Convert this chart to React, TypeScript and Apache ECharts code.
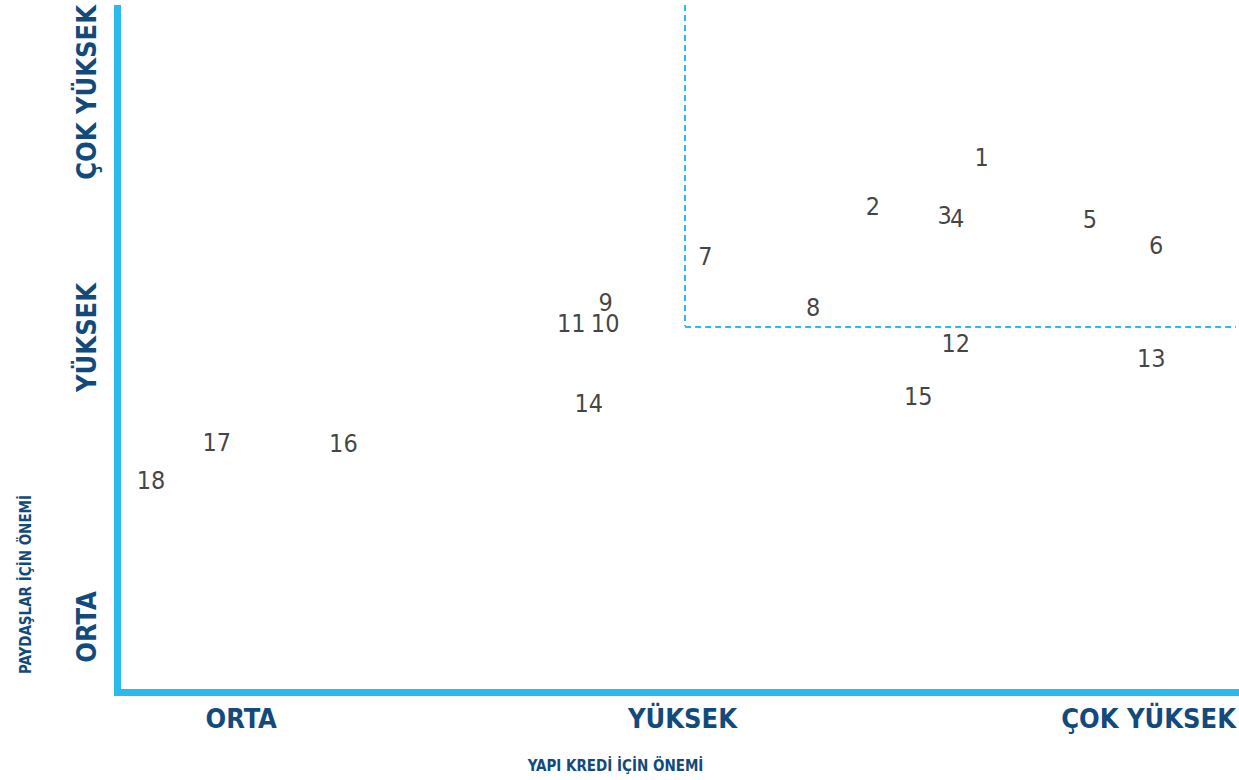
import React, { useEffect, useRef } from "react";
import * as echarts from "echarts";

// Point labels and their positions on the two importance scales (0-100)
const pointLabels = ["1", "2", "3", "4", "5", "6", "7", "8", "9", "10", "11", "12", "13", "14", "15", "16", "17", "18"];
const yapiKrediValues = [77.26, 67.54, 73.96, 75.08, 86.94, 92.87, 52.56, 62.19, 43.65, 43.6, 40.57, 74.94, 92.42, 42.13, 71.6, 20.2, 8.87, 2.99];
const paydaslarValues = [77.82, 70.76, 69.38, 68.95, 68.87, 64.95, 63.42, 56.0, 56.73, 53.67, 53.67, 50.76, 48.58, 42.04, 43.05, 36.29, 36.36, 30.84];

// Axis tick labels
const xTickValues = [11.06, 50.51, 100];
const xTickLabels = ["ORTA", "YÜKSEK", "ÇOK YÜKSEK"];
const yTickValues = [9.53, 51.64, 100];
const yTickLabels = ["ORTA", "YÜKSEK", "ÇOK YÜKSEK"];

// Quadrant threshold (dashed lines)
const thresholdX = 50.75;
const thresholdY = 53.27;

const xAxisName = "YAPI KREDİ İÇİN ÖNEMİ";
const yAxisName = "PAYDAŞLAR İÇİN ÖNEMİ";

const BLUE = "#2cb9ee";
const NAVY = "#134a7c";
const NARROW = "'Liberation Sans Narrow', 'DejaVu Sans Condensed', 'Noto Sans', sans-serif";

export default function App() {
  const ref = useRef<HTMLDivElement>(null);

  useEffect(() => {
    if (!ref.current) return;
    const chart = echarts.init(ref.current, undefined, { renderer: "svg" });
    const data = pointLabels.map((n, i) => [yapiKrediValues[i], paydaslarValues[i], n]);

    const labelFor = (values: number[], labels: string[]) => (v: number) => {
      let best = 0;
      for (let i = 1; i < values.length; i++) {
        if (Math.abs(values[i] - v) < Math.abs(values[best] - v)) best = i;
      }
      return labels[best];
    };

    chart.setOption({
      animation: false,
      grid: { left: 117.5, right: 0, top: 5, bottom: 87.5, containLabel: false },
      xAxis: {
        type: "value",
        min: 0,
        max: 100,
        splitLine: { show: false },
        axisTick: { show: false },
        axisLine: { show: true, lineStyle: { color: BLUE, width: 7, cap: "square" } },
        axisLabel: {
          customValues: xTickValues,
          formatter: labelFor(xTickValues, xTickLabels),
          alignMaxLabel: "right",
          margin: 12,
          color: NAVY,
          fontFamily: NARROW,
          fontWeight: "bold",
          fontSize: 27,
        },
      },
      yAxis: {
        type: "value",
        min: 0,
        max: 100,
        splitLine: { show: false },
        axisTick: { show: false },
        axisLine: { show: true, lineStyle: { color: BLUE, width: 7, cap: "butt" } },
        axisLabel: {
          customValues: yTickValues,
          formatter: labelFor(yTickValues, yTickLabels),
          rotate: 90,
          alignMaxLabel: "right",
          margin: 18,
          color: NAVY,
          fontFamily: NARROW,
          fontWeight: "bold",
          fontSize: 27,
        },
      },
      graphic: [
        {
          type: "text",
          x: 615.5,
          y: 766,
          style: {
            text: xAxisName,
            fill: NAVY,
            font: `bold 15px ${NARROW}`,
            align: "center",
            verticalAlign: "middle",
          },
        },
        {
          type: "text",
          x: 25.5,
          y: 584.5,
          rotation: Math.PI / 2,
          style: {
            text: yAxisName,
            fill: NAVY,
            font: `bold 15px ${NARROW}`,
            align: "center",
            verticalAlign: "middle",
          },
        },
      ],
      series: [
        {
          type: "scatter",
          data,
          symbolSize: 1,
          itemStyle: { color: "rgba(0,0,0,0)" },
          label: {
            show: true,
            position: "inside",
            formatter: (p: any) => p.data[2],
            color: "#111111",
            fontFamily: NARROW,
            fontSize: 25,
            lineHeight: 19,
          },
          markLine: {
            silent: true,
            symbol: "none",
            label: { show: false },
            lineStyle: { color: BLUE, type: [6, 4], width: 2 },
            data: [
              [{ coord: [thresholdX, 100] }, { coord: [thresholdX, thresholdY] }],
              [{ coord: [thresholdX, thresholdY] }, { coord: [100, thresholdY] }],
            ],
          },
        },
      ],
    });

    return () => chart.dispose();
  }, []);

  return (
    <div
      ref={ref}
      style={{ position: "fixed", left: 0, top: 0, width: 1239, height: 780, background: "#fff" }}
    />
  );
}
